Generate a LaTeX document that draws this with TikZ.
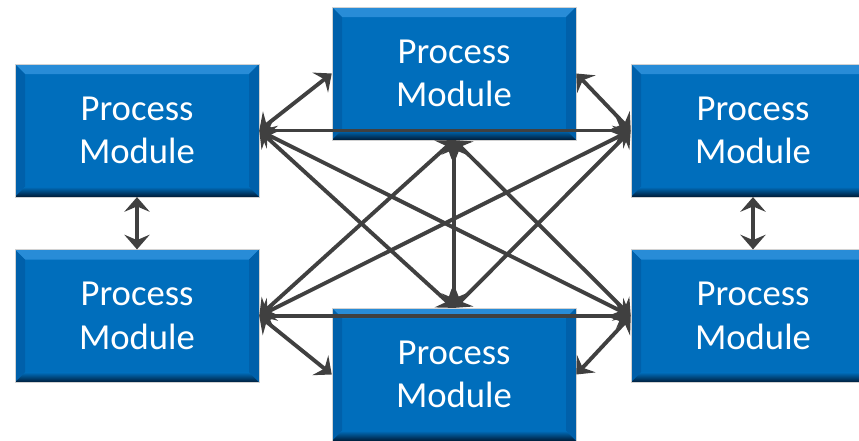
\documentclass[tikz,border=0pt]{standalone}
\usepackage{fontspec}
\setmainfont{Carlito}
\usetikzlibrary{arrows.meta}
\definecolor{modblue}{RGB}{0,110,188}
\definecolor{modlight}{RGB}{40,140,215}
\definecolor{modside}{RGB}{0,96,170}
\definecolor{moddark}{RGB}{0,28,56}
\definecolor{linkgray}{RGB}{64,64,64}
\tikzset{
  module/.style={fill=modblue, draw=gray!35, line width=0.4pt,
    minimum width=183pt, minimum height=99.5pt, inner sep=0pt,
    align=center, text=white, font=\fontsize{27.5}{32.5}\selectfont,
    path picture={
      % bevel
      \fill[modlight] (path picture bounding box.north west) -- (path picture bounding box.north east)
        -- ([xshift=-7.5pt,yshift=-7.5pt]path picture bounding box.north east)
        -- ([xshift=7.5pt,yshift=-7.5pt]path picture bounding box.north west) -- cycle;
      \fill[modside] (path picture bounding box.north west) -- ([xshift=7.5pt,yshift=-7.5pt]path picture bounding box.north west)
        -- ([xshift=7.5pt,yshift=7.5pt]path picture bounding box.south west) -- (path picture bounding box.south west) -- cycle;
      \fill[modside] (path picture bounding box.north east) -- ([xshift=-7.5pt,yshift=-7.5pt]path picture bounding box.north east)
        -- ([xshift=-7.5pt,yshift=7.5pt]path picture bounding box.south east) -- (path picture bounding box.south east) -- cycle;
      \shade[top color=modblue, bottom color=moddark] (path picture bounding box.south west)
        -- ([xshift=7.5pt,yshift=7.5pt]path picture bounding box.south west)
        -- ([xshift=-7.5pt,yshift=7.5pt]path picture bounding box.south east)
        -- (path picture bounding box.south east) -- cycle;
    }},
  link/.style={{Stealth[length=11pt,width=19pt,inset=4pt]}-{Stealth[length=11pt,width=19pt,inset=4pt]},
    line width=2.9pt, draw=linkgray}
}
\begin{document}
\begin{tikzpicture}[x=0.75pt,y=-0.75pt]
\useasboundingbox (0,0) rectangle (859,441);
% モジュール
\node[module] (lt) at (137,130.5) {Process\\Module};
\node[module] (lb) at (137,316) {Process\\Module};
\node[module] (tc) at (454,73.5) {Process\\Module};
\node[module] (bc) at (454,374.5) {Process\\Module};
\node[module] (rt) at (753,130.5) {Process\\Module};
\node[module] (rb) at (753,316) {Process\\Module};
% 左右の縦の接続
\draw[link] (lt.south) -- (lb.north);
\draw[link] (rt.south) -- (rb.north);
% 左上から
\draw[link] (lt.east) -- (tc.west);
\draw[link] (lt.east) -- (rt.west);
\draw[link] (lt.east) -- (bc.north);
\draw[link] (lt.east) -- (rb.west);
% 左下から
\draw[link] (lb.east) -- (tc.south);
\draw[link] (lb.east) -- (rt.west);
\draw[link] (lb.east) -- (rb.west);
\draw[link] (lb.east) -- (bc.west);
% 中央
\draw[link] (tc.south) -- (bc.north);
\draw[link] (tc.south) -- (rb.west);
\draw[link] (tc.east) -- (rt.west);
\draw[link] (rt.west) -- (bc.north);
\draw[link] (bc.east) -- (rb.west);
\end{tikzpicture}
\end{document}
